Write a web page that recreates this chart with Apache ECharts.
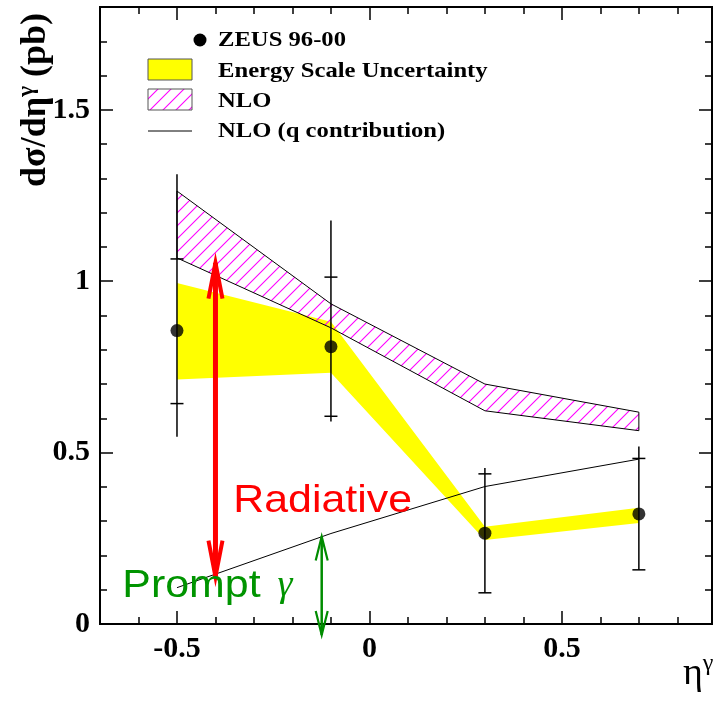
<!DOCTYPE html>
<html>
<head>
<meta charset="utf-8">
<script src="https://cdn.jsdelivr.net/npm/echarts@6/dist/echarts.min.js"></script>
<style>
html,body{margin:0;padding:0;background:#fff;}
#c{width:713px;height:705px;}
</style>
</head>
<body>
<div id="c"></div>
<script>
// ---------- data ----------
const etaBins   = [-0.5, -0.1, 0.3, 0.7];
const zeusVals  = [0.856, 0.809, 0.265, 0.321];
const statLow   = [0.643, 0.606, 0.091, 0.158];
const statHigh  = [1.065, 1.012, 0.438, 0.483];
const totLow    = [0.546, 0.591, 0.091, 0.158];
const totHigh   = [1.312, 1.177, 0.455, 0.518];
const escUpper  = [0.995, 0.882, 0.284, 0.339];
const escLower  = [0.713, 0.733, 0.245, 0.295];
const nloUpper  = [1.263, 0.934, 0.700, 0.618];
const nloLower  = [1.068, 0.864, 0.622, 0.564];
const nloQ      = [0.106, 0.264, 0.401, 0.481];
const radiativeArrow = [-0.4, 0.138, 1.054];
const promptArrow    = [-0.124, -0.032, 0.255];
const xMajorTicks = [-0.5, 0, 0.5];
const xMinorTicks = [-0.7, -0.6, -0.5, -0.4, -0.3, -0.2, -0.1, 0, 0.1, 0.2, 0.3, 0.4, 0.5, 0.6, 0.7, 0.8];
const yMajorTicks = [0, 0.5, 1, 1.5];
const yMinorTicks = [0, 0.1, 0.2, 0.3, 0.4, 0.5, 0.6, 0.7, 0.8, 0.9, 1.0, 1.1, 1.2, 1.3, 1.4, 1.5, 1.6, 1.7];
const annotations = [
  {text: 'Radiative', x: -0.354, y: 0.358, color: '#ff0000', kind: 'sans'},
  {text: 'Prompt', x: -0.642, y: 0.111, color: '#009400', kind: 'sans'},
  {text: 'γ', x: -0.239, y: 0.111, color: '#009400', kind: 'greek'}
];
const legendLabels = ['ZEUS 96-00', 'Energy Scale Uncertainty', 'NLO', 'NLO (q contribution)'];

// ---------- styles ----------
const SERIF = '"Liberation Serif","DejaVu Serif","Times New Roman",serif';
const SANS = '"Liberation Sans",Arial,sans-serif';

function makeHatch() {
  const s = 13;
  const cv = document.createElement('canvas');
  cv.width = s; cv.height = s;
  const ctx = cv.getContext('2d');
  ctx.strokeStyle = '#ff00ff';
  ctx.lineWidth = 1.1;
  ctx.beginPath();
  ctx.moveTo(-1, s + 1); ctx.lineTo(s + 1, -1);
  ctx.moveTo(-1, 1); ctx.lineTo(1, -1);
  ctx.moveTo(s - 1, s + 1); ctx.lineTo(s + 1, s - 1);
  ctx.stroke();
  return cv;
}
const hatch = {image: makeHatch(), repeat: 'repeat'};

function bandRender(upper, lower, style) {
  return function (params, api) {
    const pts = [];
    for (let i = 0; i < etaBins.length; i++) pts.push(api.coord([etaBins[i], upper[i]]));
    for (let i = etaBins.length - 1; i >= 0; i--) pts.push(api.coord([etaBins[i], lower[i]]));
    return {type: 'polygon', shape: {points: pts}, style: style};
  };
}

function arrowRender(color, width, headW, headL, headWidth) {
  return function (params, api) {
    const x = api.value(0), a = api.value(1), b = api.value(2);
    const p1 = api.coord([x, a]);
    const p2 = api.coord([x, b]);
    const ls = {stroke: color, lineWidth: width, lineCap: 'butt'};
    const hs = {stroke: color, lineWidth: headWidth, fill: null, lineJoin: 'miter'};
    return {
      type: 'group',
      children: [
        {type: 'line', shape: {x1: p1[0], y1: p1[1], x2: p2[0], y2: p2[1]}, style: ls},
        {type: 'polyline', shape: {points: [[p1[0] - headW, p1[1] - headL], [p1[0], p1[1]], [p1[0] + headW, p1[1] - headL]]}, style: hs},
        {type: 'polyline', shape: {points: [[p2[0] - headW, p2[1] + headL], [p2[0], p2[1]], [p2[0] + headW, p2[1] + headL]]}, style: hs}
      ]
    };
  };
}

const chart = echarts.init(document.getElementById('c'), null, {renderer: 'canvas'});

const axisLineStyle = {color: '#000', width: 2};
const tickStyle = {color: '#000', width: 1.5};

function xAx(pos, ticks, len, labels) {
  return {
    type: 'value', min: -0.7, max: 0.89, position: pos,
    axisLine: {show: true, onZero: false, lineStyle: axisLineStyle},
    axisTick: {show: true, inside: true, length: len, customValues: ticks, lineStyle: tickStyle},
    axisLabel: labels ? {show: true, customValues: ticks, color: '#000', fontFamily: SERIF, fontWeight: 'bold', fontSize: 30, margin: 10,
      formatter: v => (Math.abs(v) < 1e-9 ? '0' : String(v))} : {show: false},
    splitLine: {show: false}
  };
}
function yAx(pos, ticks, len, labels) {
  return {
    type: 'value', min: 0, max: 1.8, position: pos,
    axisLine: {show: true, onZero: false, lineStyle: axisLineStyle},
    axisTick: {show: true, inside: true, length: len, customValues: ticks, lineStyle: tickStyle},
    axisLabel: labels ? {show: true, customValues: ticks, color: '#000', fontFamily: SERIF, fontWeight: 'bold', fontSize: 30, margin: 10,
      formatter: v => String(v)} : {show: false},
    splitLine: {show: false}
  };
}

const option = {
  animation: false,
  backgroundColor: '#fff',
  grid: {left: 100, right: 1, top: 7, bottom: 81, containLabel: false},
  xAxis: [
    xAx('bottom', xMinorTicks, 7, false),
    xAx('bottom', xMajorTicks, 13, true),
    xAx('top', xMinorTicks, 7, false),
    xAx('top', xMajorTicks, 13, false)
  ],
  yAxis: [
    yAx('left', yMinorTicks, 7, false),
    yAx('left', yMajorTicks, 13, true),
    yAx('right', yMinorTicks, 7, false),
    yAx('right', yMajorTicks, 13, false)
  ],
  series: [
    {
      name: 'Energy Scale Uncertainty', type: 'custom', data: [0], z: 1,
      renderItem: bandRender(escUpper, escLower, {fill: '#ffff00', stroke: null})
    },
    {
      name: 'NLO', type: 'custom', data: [0], z: 2,
      renderItem: bandRender(nloUpper, nloLower, {fill: hatch, stroke: '#000', lineWidth: 1})
    },
    {
      name: 'NLO (q contribution)', type: 'line', z: 3,
      data: etaBins.map((x, i) => [x, nloQ[i]]),
      showSymbol: false, symbol: 'none',
      lineStyle: {color: '#000', width: 1}
    },
    {
      name: 'errors', type: 'custom', z: 4,
      data: etaBins.map((x, i) => [x, totLow[i], totHigh[i], statLow[i], statHigh[i]]),
      renderItem: function (params, api) {
        const x = api.value(0);
        const lo = api.coord([x, api.value(1)]);
        const hi = api.coord([x, api.value(2)]);
        const sl = api.coord([x, api.value(3)]);
        const sh = api.coord([x, api.value(4)]);
        const st = {stroke: '#000', lineWidth: 1.5};
        const w = 6.5;
        return {type: 'group', children: [
          {type: 'line', shape: {x1: lo[0], y1: lo[1], x2: hi[0], y2: hi[1]}, style: st},
          {type: 'line', shape: {x1: sl[0] - w, y1: sl[1], x2: sl[0] + w, y2: sl[1]}, style: st},
          {type: 'line', shape: {x1: sh[0] - w, y1: sh[1], x2: sh[0] + w, y2: sh[1]}, style: st}
        ]};
      }
    },
    {
      name: 'ZEUS 96-00', type: 'scatter', z: 5,
      data: etaBins.map((x, i) => [x, zeusVals[i]]),
      symbol: 'circle', symbolSize: 13,
      itemStyle: {color: '#000'}
    },
    {
      name: 'radiative', type: 'custom', z: 6, clip: false,
      data: [radiativeArrow],
      renderItem: arrowRender('#ff0000', 5, 7, 36, 4)
    },
    {
      name: 'prompt', type: 'custom', z: 6, clip: false,
      data: [promptArrow],
      renderItem: arrowRender('#008c00', 2.5, 6, 24, 2.2)
    },
    {
      name: 'annotations', type: 'custom', z: 7, clip: false,
      data: annotations.map(a => [a.x, a.y]),
      renderItem: function (params, api) {
        const a = annotations[params.dataIndex];
        const p = api.coord([api.value(0), api.value(1)]);
        const font = a.kind === 'greek' ? 'italic 38px ' + SERIF : '39px ' + SANS;
        return {
          type: 'text', x: p[0], y: p[1], scaleX: a.kind === 'greek' ? 1 : 1.1,
          style: {text: a.text, fill: a.color, font: font, align: 'left', verticalAlign: 'middle'}
        };
      }
    }
  ],
  graphic: [
    // legend
    {type: 'circle', shape: {cx: 200, cy: 40, r: 6.5}, style: {fill: '#000'}, z: 10},
    {type: 'rect', shape: {x: 148, y: 59, width: 44, height: 21}, style: {fill: '#ffff00', stroke: '#555', lineWidth: 1}, z: 10},
    {type: 'rect', shape: {x: 148, y: 89, width: 44, height: 21}, style: {fill: hatch, stroke: '#555', lineWidth: 1}, z: 10},
    {type: 'line', shape: {x1: 148, y1: 131, x2: 192, y2: 131}, style: {stroke: '#000', lineWidth: 1}, z: 10},
    ...legendLabels.map((t, i) => ({
      type: 'text', x: 218, y: [40, 71, 101, 131][i], scaleX: 1.12, z: 10,
      style: {text: t, font: 'bold 22px ' + SERIF, fill: '#000', align: 'left', verticalAlign: 'middle'}
    })),
    // y-axis title
    {
      type: 'text', x: 36, y: 100, rotation: Math.PI / 2, z: 10,
      style: {
        text: '{a|dσ/dη}{s|γ}{a| (pb)}',
        align: 'center', verticalAlign: 'middle',
        rich: {
          a: {fontFamily: SERIF, fontWeight: 'bold', fontSize: 36, fill: '#000', lineHeight: 40},
          s: {fontFamily: SERIF, fontWeight: 'bold', fontSize: 23, fill: '#000', verticalAlign: 'top', lineHeight: 40}
        }
      }
    },
    // x-axis title
    {
      type: 'text', x: 683, y: 696, z: 10,
      style: {
        text: '{a|η}{s|γ}',
        align: 'left', verticalAlign: 'bottom',
        rich: {
          a: {fontFamily: SERIF, fontSize: 38, fill: '#000', lineHeight: 44},
          s: {fontFamily: SERIF, fontSize: 24, fill: '#000', verticalAlign: 'top', lineHeight: 44}
        }
      }
    }
  ]
};
chart.setOption(option);
</script>
</body>
</html>
